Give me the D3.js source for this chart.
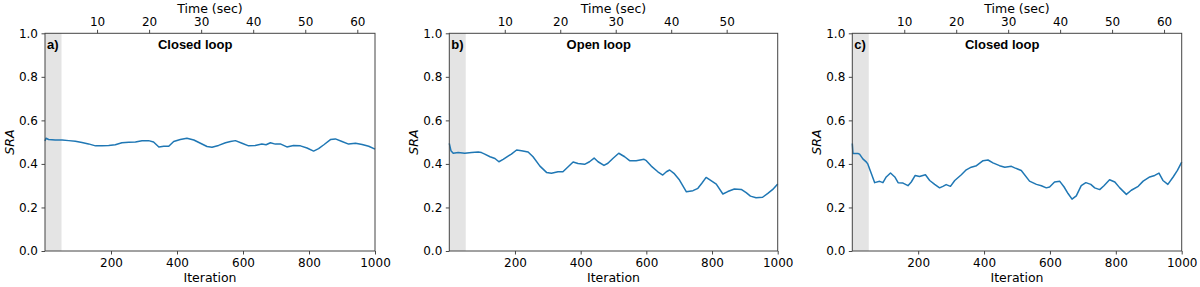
<!DOCTYPE html>
<html>
<head>
<meta charset="utf-8">
<script src="https://cdn.jsdelivr.net/npm/d3@7"></script>
<style>
  body { margin: 0; background: #fff; }
  svg text { font-family: "DejaVu Sans", sans-serif; }
  .tick text { font-size: 12px; fill: #000; }
  .tick line { stroke: #333; stroke-width: 0.9; }
  .panelTitle { font-family: "Liberation Sans", Arial, sans-serif !important; font-weight: bold; font-size: 13px; }
</style>
</head>
<body>
<div id="chart"></div>
<script>
/***********************************************************
 * Data (iteration, SRA)
 * *********************************************************
 */
let iterA = [0, 3, 11, 31, 52, 72, 92, 112, 132, 153, 173, 193, 213, 233, 254, 274, 294, 314, 329, 345, 360, 375, 390, 410, 430, 451, 471, 491, 506, 526, 547, 562, 577, 597, 617, 637, 657, 670, 683, 698, 713, 733, 753, 774, 794, 814, 829, 845, 865, 880, 900, 920, 941, 961, 981, 1000];
let sraA = [0.505, 0.518, 0.512, 0.510, 0.510, 0.507, 0.504, 0.498, 0.492, 0.483, 0.483, 0.485, 0.488, 0.497, 0.500, 0.501, 0.506, 0.507, 0.501, 0.478, 0.481, 0.481, 0.503, 0.512, 0.518, 0.510, 0.495, 0.480, 0.477, 0.485, 0.497, 0.503, 0.507, 0.495, 0.483, 0.485, 0.491, 0.488, 0.497, 0.491, 0.492, 0.478, 0.485, 0.483, 0.473, 0.459, 0.470, 0.488, 0.512, 0.515, 0.503, 0.491, 0.495, 0.489, 0.481, 0.468];

let iterB = [0, 5, 12, 27, 47, 68, 88, 98, 108, 124, 139, 151, 164, 179, 189, 205, 220, 240, 255, 276, 296, 311, 331, 346, 362, 377, 392, 412, 427, 441, 453, 471, 483, 498, 516, 534, 549, 569, 593, 600, 615, 635, 650, 661, 671, 684, 701, 722, 742, 757, 769, 782, 797, 813, 833, 848, 868, 889, 904, 917, 934, 954, 970, 985, 1000];
let sraB = [0.494, 0.461, 0.449, 0.452, 0.449, 0.452, 0.455, 0.452, 0.445, 0.433, 0.425, 0.410, 0.421, 0.436, 0.445, 0.464, 0.461, 0.455, 0.433, 0.390, 0.361, 0.357, 0.364, 0.364, 0.387, 0.409, 0.402, 0.398, 0.410, 0.427, 0.410, 0.393, 0.403, 0.425, 0.449, 0.433, 0.415, 0.415, 0.421, 0.415, 0.390, 0.364, 0.349, 0.364, 0.372, 0.357, 0.326, 0.272, 0.277, 0.288, 0.311, 0.338, 0.323, 0.307, 0.262, 0.273, 0.285, 0.283, 0.268, 0.252, 0.245, 0.247, 0.265, 0.283, 0.308];

let iterC = [0, 2, 17, 22, 32, 43, 47, 58, 68, 83, 93, 103, 116, 129, 139, 154, 169, 179, 191, 204, 222, 235, 250, 265, 275, 285, 298, 311, 331, 346, 361, 377, 397, 412, 427, 447, 463, 483, 493, 513, 538, 559, 574, 589, 599, 614, 630, 643, 655, 667, 680, 695, 709, 724, 736, 751, 764, 781, 797, 812, 832, 847, 868, 883, 903, 918, 931, 943, 958, 974, 987, 1000];
let sraC = [0.494, 0.448, 0.448, 0.445, 0.423, 0.408, 0.400, 0.355, 0.314, 0.320, 0.314, 0.340, 0.358, 0.340, 0.314, 0.312, 0.300, 0.317, 0.347, 0.342, 0.350, 0.324, 0.306, 0.290, 0.297, 0.305, 0.297, 0.324, 0.350, 0.373, 0.385, 0.392, 0.415, 0.418, 0.405, 0.392, 0.385, 0.389, 0.382, 0.370, 0.321, 0.306, 0.300, 0.290, 0.294, 0.317, 0.320, 0.294, 0.264, 0.238, 0.253, 0.300, 0.314, 0.306, 0.290, 0.282, 0.300, 0.327, 0.317, 0.290, 0.260, 0.279, 0.297, 0.321, 0.340, 0.347, 0.358, 0.324, 0.306, 0.340, 0.370, 0.408];

let panelLetters = ["a)", "b)", "c)"];
let panelTitles = ["Closed loop", "Open loop", "Closed loop"];
let timeSpans = [63.4, 59.2, 63.4];          // seconds covered by 1000 iterations
let timeTicks = [[10, 20, 30, 40, 50, 60], [10, 20, 30, 40, 50], [10, 20, 30, 40, 50, 60]];
let iterTicks = [200, 400, 600, 800, 1000];
let sraTicks = [0.0, 0.2, 0.4, 0.6, 0.8, 1.0];
let warmupIters = 50;                       // shaded start-up region

/***********************************************************
 * Set up chart sizes
 * *********************************************************
 */
let svgWidth = 1200;
let svgHeight = 287;
let panelLeft = [45, 449.3, 852.3];
let panelWidth = [330, 328.4, 329.4];
let plotTop = 33.3;
let plotBottom = 251;

let svg = d3.select("#chart")
    .append("svg")
    .attr("width", svgWidth)
    .attr("height", svgHeight);

let panels = [
    { iter: iterA, sra: sraA },
    { iter: iterB, sra: sraB },
    { iter: iterC, sra: sraC }
];

let yScale = d3.scaleLinear().domain([0, 1]).range([plotBottom, plotTop]);

panels.forEach((p, i) => {
    let left = panelLeft[i];
    let w = panelWidth[i];
    let xScale = d3.scaleLinear().domain([0, 1000]).range([left, left + w]);
    let tScale = d3.scaleLinear().domain([0, timeSpans[i]]).range([left, left + w]);

    // shaded warm-up band
    svg.append("rect")
        .attr("x", xScale(0))
        .attr("y", plotTop)
        .attr("width", xScale(warmupIters) - xScale(0))
        .attr("height", plotBottom - plotTop)
        .attr("fill", "#e4e4e4");

    // SRA line
    let line = d3.line()
        .x((d, k) => xScale(p.iter[k]))
        .y(d => yScale(d));

    svg.append("path")
        .datum(p.sra)
        .attr("d", line)
        .attr("fill", "none")
        .attr("stroke", "#1f77b4")
        .attr("stroke-width", 1.5)
        .attr("stroke-linejoin", "round");

    // axes
    let bottomAxis = d3.axisBottom(xScale).tickValues(iterTicks).tickSize(3.5).tickPadding(3.5).tickFormat(d3.format("d"));
    let leftAxis = d3.axisLeft(yScale).tickValues(sraTicks).tickSize(3.5).tickPadding(3.5).tickFormat(d3.format(".1f"));
    let topAxis = d3.axisTop(tScale).tickValues(timeTicks[i]).tickSize(3.5).tickPadding(3.5).tickFormat(d3.format("d"));

    let gx = svg.append("g").attr("transform", `translate(0, ${plotBottom})`).call(bottomAxis);
    let gy = svg.append("g").attr("transform", `translate(${left}, 0)`).call(leftAxis);
    let gt = svg.append("g").attr("transform", `translate(0, ${plotTop})`).call(topAxis);
    [gx, gy, gt].forEach(g => g.select(".domain").remove());
    [gx, gy, gt].forEach(g => g.attr("font-family", null).attr("font-size", null));

    // frame
    svg.append("rect")
        .attr("x", left)
        .attr("y", plotTop)
        .attr("width", w)
        .attr("height", plotBottom - plotTop)
        .attr("fill", "none")
        .attr("stroke", "#444")
        .attr("stroke-width", 1);

    // labels
    svg.append("text")
        .attr("x", left + w / 2)
        .attr("y", 282)
        .attr("text-anchor", "middle")
        .attr("font-size", "12.5px")
        .text("Iteration");

    svg.append("text")
        .attr("x", left + w / 2)
        .attr("y", 12.7)
        .attr("text-anchor", "middle")
        .attr("font-size", "12.5px")
        .text("Time (sec)");

    svg.append("text")
        .attr("transform", `translate(${left - 31}, ${(plotTop + plotBottom) / 2}) rotate(-90)`)
        .attr("text-anchor", "middle")
        .attr("font-size", "12.5px")
        .attr("font-style", "italic")
        .text("SRA");

    svg.append("text")
        .attr("class", "panelTitle")
        .attr("x", left + 2)
        .attr("y", 49)
        .text(panelLetters[i]);

    svg.append("text")
        .attr("class", "panelTitle")
        .attr("x", left + w * 0.455)
        .attr("y", 49)
        .attr("text-anchor", "middle")
        .text(panelTitles[i]);
});
</script>
</body>
</html>
